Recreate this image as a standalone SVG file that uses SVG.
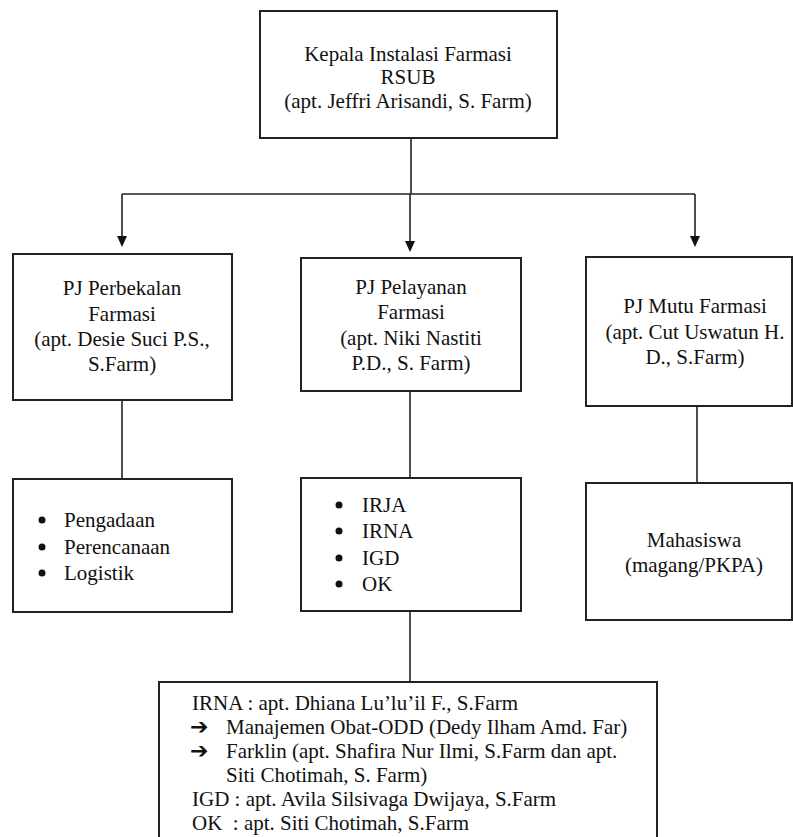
<svg xmlns="http://www.w3.org/2000/svg" width="793" height="837" viewBox="0 0 793 837">
<style>
.box{fill:#fff;stroke:#222;stroke-width:2}
.ln{fill:none;stroke:#222;stroke-width:1.6}
.t{font-family:'Liberation Serif','Times New Roman',serif;font-size:21px;fill:#111}
.c{text-anchor:middle}
.dot{fill:#111}
.ar{font-family:'DejaVu Sans',sans-serif;font-size:22px;font-weight:bold;fill:#111}
</style>
<rect width="793" height="837" fill="#fff"/>
<g id="connectors">
<path class="ln" d="M411,138 V194"/>
<path class="ln" d="M122,194 H695"/>
<path class="ln" d="M122,194 V236"/><path d="M117,236 L127,236 L122,247 Z" fill="#111"/>
<path class="ln" d="M410,194 V241"/><path d="M405,241 L415,241 L410,252 Z" fill="#111"/>
<path class="ln" d="M695,194 V236"/><path d="M690,236 L700,236 L695,247 Z" fill="#111"/>
<path class="ln" d="M122,400 V479"/>
<path class="ln" d="M410,391 V478"/>
<path class="ln" d="M697,406 V483"/>
<path class="ln" d="M410,611 V682"/>
</g>
<g id="kepala" class="t">
<rect class="box" x="260" y="11" width="297" height="127"/>
<text class="c" x="408" y="61">Kepala Instalasi Farmasi</text>
<text class="c" x="408" y="84">RSUB</text>
<text class="c" x="408" y="108">(apt. Jeffri Arisandi, S. Farm)</text>
</g>
<g id="perbekalan" class="t">
<rect class="box" x="13" y="254" width="219" height="146"/>
<text class="c" x="122" y="295">PJ Perbekalan</text>
<text class="c" x="122" y="321">Farmasi</text>
<text class="c" x="122" y="346">(apt. Desie Suci P.S.,</text>
<text class="c" x="122" y="371">S.Farm)</text>
</g>
<g id="pelayanan" class="t">
<rect class="box" x="301" y="258" width="220" height="133"/>
<text class="c" x="411" y="294">PJ Pelayanan</text>
<text class="c" x="411" y="319">Farmasi</text>
<text class="c" x="411" y="345">(apt. Niki Nastiti</text>
<text class="c" x="411" y="370">P.D., S. Farm)</text>
</g>
<g id="mutu" class="t">
<rect class="box" x="586" y="257" width="206" height="149"/>
<text class="c" x="695" y="313">PJ Mutu Farmasi</text>
<text class="c" x="695" y="339">(apt. Cut Uswatun H.</text>
<text class="c" x="695" y="364">D., S.Farm)</text>
</g>
<g id="list-perbekalan" class="t">
<rect class="box" x="13" y="479" width="219" height="133"/>
<circle class="dot" cx="42" cy="520" r="3.5"/><text x="64" y="527">Pengadaan</text>
<circle class="dot" cx="42" cy="547" r="3.5"/><text x="64" y="554">Perencanaan</text>
<circle class="dot" cx="42" cy="573" r="3.5"/><text x="64" y="580">Logistik</text>
</g>
<g id="list-pelayanan" class="t">
<rect class="box" x="301" y="478" width="220" height="133"/>
<circle class="dot" cx="339" cy="505" r="3.5"/><text x="362" y="512">IRJA</text>
<circle class="dot" cx="339" cy="531" r="3.5"/><text x="362" y="538">IRNA</text>
<circle class="dot" cx="339" cy="558" r="3.5"/><text x="362" y="565">IGD</text>
<circle class="dot" cx="339" cy="584" r="3.5"/><text x="362" y="591">OK</text>
</g>
<g id="mahasiswa" class="t">
<rect class="box" x="586" y="483" width="206" height="137"/>
<text class="c" x="694" y="547">Mahasiswa</text>
<text class="c" x="694" y="572">(magang/PKPA)</text>
</g>
<g id="detail" class="t">
<rect class="box" x="159" y="682" width="498" height="170"/>
<text x="192" y="710">IRNA : apt. Dhiana Lu’lu’il F., S.Farm</text>
<text class="ar" x="190" y="734">➔</text><text x="226" y="734">Manajemen Obat-ODD (Dedy Ilham Amd. Far)</text>
<text class="ar" x="190" y="758">➔</text><text x="226" y="758">Farklin (apt. Shafira Nur Ilmi, S.Farm dan apt.</text>
<text x="226" y="782">Siti Chotimah, S. Farm)</text>
<text x="192" y="806">IGD : apt. Avila Silsivaga Dwijaya, S.Farm</text>
<text x="192" y="830" xml:space="preserve">OK  : apt. Siti Chotimah, S.Farm</text>
</g>
</svg>
